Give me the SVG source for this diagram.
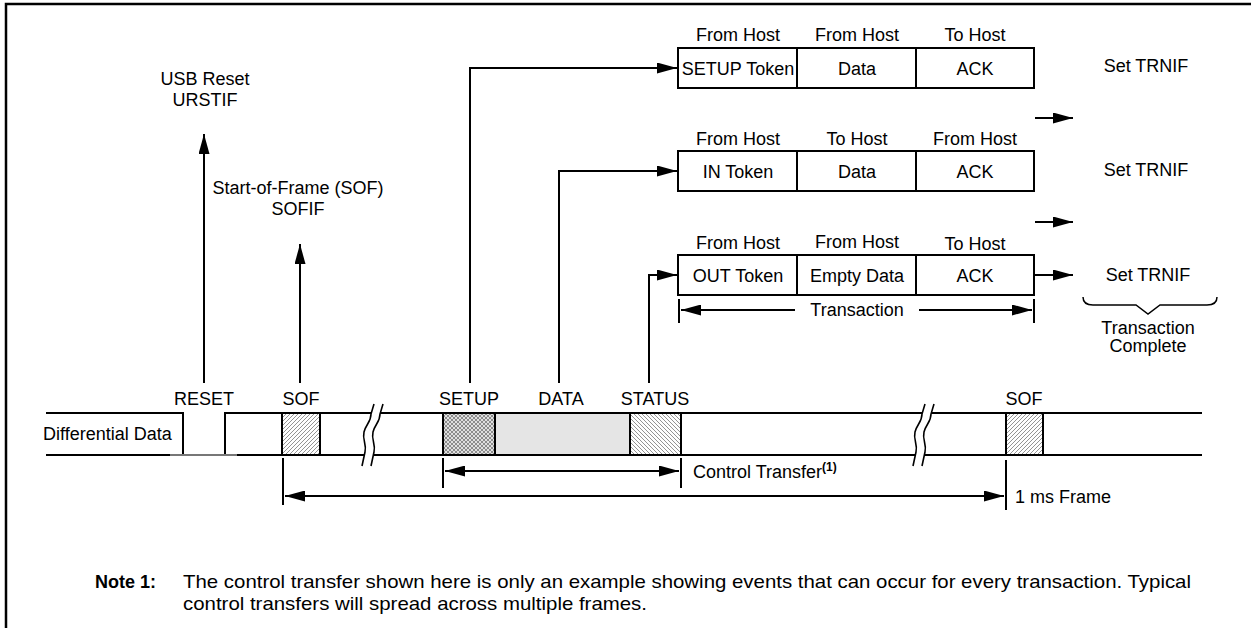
<svg xmlns="http://www.w3.org/2000/svg" width="1251" height="628" viewBox="0 0 1251 628">
<defs>
<style>
text{font-family:"Liberation Sans",Arial,sans-serif;font-size:18px;fill:#000}
.m{text-anchor:middle}
.b{font-weight:bold}
.nt{font-size:19px}
.ln{stroke:#000;stroke-width:2;fill:none}
.thin{stroke:#000;stroke-width:1.6;fill:none}
.box{fill:#fff;stroke:#000;stroke-width:2}
</style>
<marker id="ah" markerUnits="userSpaceOnUse" markerWidth="20" markerHeight="11" viewBox="0 0 20 11" refX="20" refY="5.5" orient="auto-start-reverse">
<path d="M0,0 L20,5.5 L0,11 Z" fill="#000"/>
</marker>
<pattern id="hf" patternUnits="userSpaceOnUse" width="4" height="4">
<path d="M-1,1 L1,-1 M0,4 L4,0 M3,5 L5,3" stroke="#666" stroke-width="0.7"/>
</pattern>
<pattern id="hb" patternUnits="userSpaceOnUse" width="4" height="4">
<path d="M-1,3 L1,5 M0,0 L4,4 M3,-1 L5,1" stroke="#666" stroke-width="0.7"/>
</pattern>
<pattern id="hx" patternUnits="userSpaceOnUse" width="4" height="4">
<rect width="4" height="4" fill="#e0e0e0"/>
<path d="M-1,1 L1,-1 M0,4 L4,0 M3,5 L5,3 M-1,3 L1,5 M0,0 L4,4 M3,-1 L5,1" stroke="#555" stroke-width="0.6"/>
</pattern>
</defs>
<rect width="1251" height="628" fill="#fff"/>
<path d="M6,628 L6,4 L1251,4" stroke="#000" stroke-width="2.5" fill="none"/>

<g id="timeline">
<path class="ln" d="M46,413 L183,413 L183,455 M225,455 L225,413 L1202,413 M46,455 L170,455 M237,455 L1202,455"/>
<path d="M170,455 L237,455" stroke="#777" stroke-width="2"/>
<text x="43" y="440">Differential Data</text>
<rect x="282" y="413" width="38" height="42" fill="url(#hf)" stroke="#000" stroke-width="2"/>
<rect x="495" y="413" width="135" height="42" fill="#e5e5e5" stroke="#000" stroke-width="2"/>
<rect x="443" y="413" width="52" height="42" fill="url(#hx)" stroke="#000" stroke-width="2"/>
<rect x="630" y="413" width="51" height="42" fill="url(#hb)" stroke="#000" stroke-width="2"/>
<rect x="1006" y="413" width="37" height="42" fill="url(#hf)" stroke="#000" stroke-width="2"/>
<g id="break1">
<path d="M362,466 L365,452 C367,444 362,440 364,432 C366,424 371,422 371,414 L374,404 L383,404 L380,414 C380,422 375,424 373,432 C371,440 376,444 374,452 L371,466 Z" fill="#fff"/>
<path class="thin" d="M362,466 L365,452 C367,444 362,440 364,432 C366,424 371,422 371,414 L374,404"/>
<path class="thin" d="M371,466 L374,452 C376,444 371,440 373,432 C375,424 380,422 380,414 L383,404"/>
</g>
<g id="break2">
<path d="M913,466 L916,452 C918,444 913,440 915,432 C917,424 922,422 922,414 L925,404 L934,404 L931,414 C931,422 926,424 924,432 C922,440 927,444 925,452 L922,466 Z" fill="#fff"/>
<path class="thin" d="M913,466 L916,452 C918,444 913,440 915,432 C917,424 922,422 922,414 L925,404"/>
<path class="thin" d="M922,466 L925,452 C927,444 922,440 924,432 C926,424 931,422 931,414 L934,404"/>
</g>
<text class="m" x="204" y="405">RESET</text>
<text class="m" x="301" y="405">SOF</text>
<text class="m" x="469" y="405">SETUP</text>
<text class="m" x="561" y="405">DATA</text>
<text class="m" x="655" y="405">STATUS</text>
<text class="m" x="1024" y="405">SOF</text>
</g>

<g id="usb-reset">
<text class="m" x="205" y="85">USB Reset</text>
<text class="m" x="205" y="106">URSTIF</text>
</g>
<g id="sof-label">
<text class="m" x="298" y="194">Start-of-Frame (SOF)</text>
<text class="m" x="298" y="215">SOFIF</text>
</g>

<g id="row-setup">
<text class="m" x="738" y="41">From Host</text>
<text class="m" x="857" y="41">From Host</text>
<text class="m" x="975" y="41">To Host</text>
<rect class="box" x="678" y="48" width="356" height="40"/>
<path class="ln" d="M797,48 V88 M916,48 V88"/>
<text class="m" x="738" y="74.5">SETUP Token</text>
<text class="m" x="857" y="74.5">Data</text>
<text class="m" x="975" y="74.5">ACK</text>
<text class="m" x="1146" y="72">Set TRNIF</text>
</g>

<g id="row-in">
<text class="m" x="738" y="145">From Host</text>
<text class="m" x="857" y="145">To Host</text>
<text class="m" x="975" y="145">From Host</text>
<rect class="box" x="678" y="151" width="356" height="40"/>
<path class="ln" d="M797,151 V191 M916,151 V191"/>
<text class="m" x="738" y="177.5">IN Token</text>
<text class="m" x="857" y="177.5">Data</text>
<text class="m" x="975" y="177.5">ACK</text>
<text class="m" x="1146" y="176">Set TRNIF</text>
</g>

<g id="row-out">
<text class="m" x="738" y="249">From Host</text>
<text class="m" x="857" y="248">From Host</text>
<text class="m" x="975" y="250">To Host</text>
<rect class="box" x="678" y="255" width="356" height="40"/>
<path class="ln" d="M797,255 V295 M916,255 V295"/>
<text class="m" x="738" y="281.5">OUT Token</text>
<text class="m" x="857" y="281.5">Empty Data</text>
<text class="m" x="975" y="281.5">ACK</text>
<text class="m" x="1148" y="281">Set TRNIF</text>
<path d="M1083,297 C1083,303 1087,305 1093,305 L1136,305 L1148,314 L1160,305 L1207,305 C1213,305 1217,303 1217,297" stroke="#000" stroke-width="1.5" fill="none"/>
<text class="m" x="1148" y="334">Transaction</text>
<text class="m" x="1148" y="352">Complete</text>
</g>

<g id="connectors">
<path class="ln" d="M204,383 V134" marker-end="url(#ah)"/>
<path class="ln" d="M300,383 V244" marker-end="url(#ah)"/>
<path class="ln" d="M470,383 V68 H677" marker-end="url(#ah)"/>
<path class="ln" d="M559,383 V171 H677" marker-end="url(#ah)"/>
<path class="ln" d="M649,383 V275 H677" marker-end="url(#ah)"/>
<path class="ln" d="M1035,118 H1073" marker-end="url(#ah)"/>
<path class="ln" d="M1035,222 H1073" marker-end="url(#ah)"/>
<path class="ln" d="M1035,275 H1073" marker-end="url(#ah)"/>
<path class="ln" d="M679,299 V323 M1034,299 V323"/>
<path class="ln" d="M681,310 H795" marker-start="url(#ah)"/>
<path class="ln" d="M919,310 H1032" marker-end="url(#ah)"/>
<path class="ln" d="M443,458 V488 M681,458 V488"/>
<path class="ln" d="M445,471 H679" marker-start="url(#ah)" marker-end="url(#ah)"/>
<path class="ln" d="M283,458 V505 M1006,460 V510"/>
<path class="ln" d="M285,496 H1004" marker-start="url(#ah)" marker-end="url(#ah)"/>
</g>
<text class="m" x="857" y="316">Transaction</text>
<text x="693" y="478">Control Transfer<tspan class="b" font-size="12" dy="-7">(1)</tspan></text>
<text x="1015" y="503">1 ms Frame</text>

<g id="note">
<text class="b" x="95" y="588">Note</text>
<text class="b" x="140" y="588">1:</text>
<text class="nt" x="183" y="588" textLength="1008" lengthAdjust="spacingAndGlyphs">The control transfer shown here is only an example showing events that can occur for every transaction. Typical</text>
<text class="nt" x="183" y="610" textLength="464" lengthAdjust="spacingAndGlyphs">control transfers will spread across multiple frames.</text>
</g>
</svg>
